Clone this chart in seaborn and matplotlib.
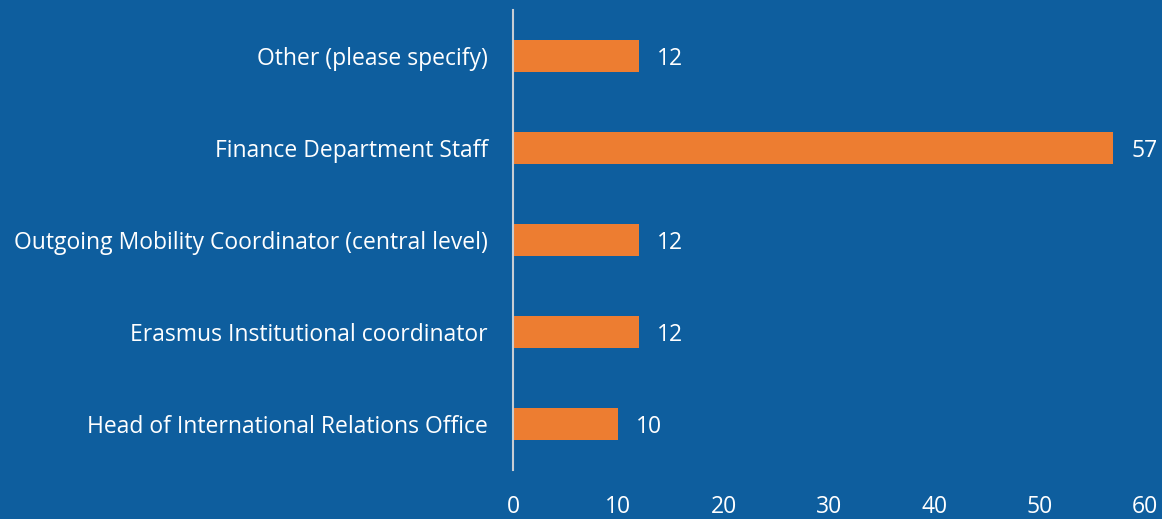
import pandas as pd
import matplotlib.pyplot as plt
import seaborn as sns

# Data
roles = ['Other (please specify)', 'Finance Department Staff',
         'Outgoing Mobility Coordinator (central level)',
         'Erasmus Institutional coordinator',
         'Head of International Relations Office']
counts = [12, 57, 12, 12, 10]
x_ticks = [0, 10, 20, 30, 40, 50, 60]

df = pd.DataFrame({'role': roles, 'count': counts})

bg = '#0E5E9E'
bar_color = '#ED7D31'

sns.set_style('white')
plt.rcParams['font.family'] = ['Open Sans', 'DejaVu Sans']

fig = plt.figure(figsize=(11.62, 5.19), dpi=100, facecolor=bg)
ax = fig.add_axes([513 / 1162, 1 - 470 / 519, (1145 - 513) / 1162, 460 / 519])
ax.set_facecolor(bg)

sns.barplot(data=df, x='count', y='role', color=bar_color, width=0.35,
            saturation=1, linewidth=0, ax=ax)

# value labels next to each bar
for i, v in enumerate(counts):
    ax.text(v + 1.7, i, str(v), color='white', fontsize=16.5,
            va='center_baseline', ha='left')

ax.set_xlim(0, 60)
ax.set_ylim(4.5, -0.5)
ax.set_xticks(x_ticks)
ax.tick_params(axis='both', length=0, colors='white', labelsize=16.5)
ax.tick_params(axis='x', pad=18)
ax.tick_params(axis='y', pad=18)
ax.set_xlabel('')
ax.set_ylabel('')

for side in ['top', 'right', 'bottom']:
    ax.spines[side].set_visible(False)
ax.spines['left'].set_color('#C8CDD3')
ax.spines['left'].set_linewidth(1.5)

fig.savefig('out.png', dpi=100, facecolor=bg)
